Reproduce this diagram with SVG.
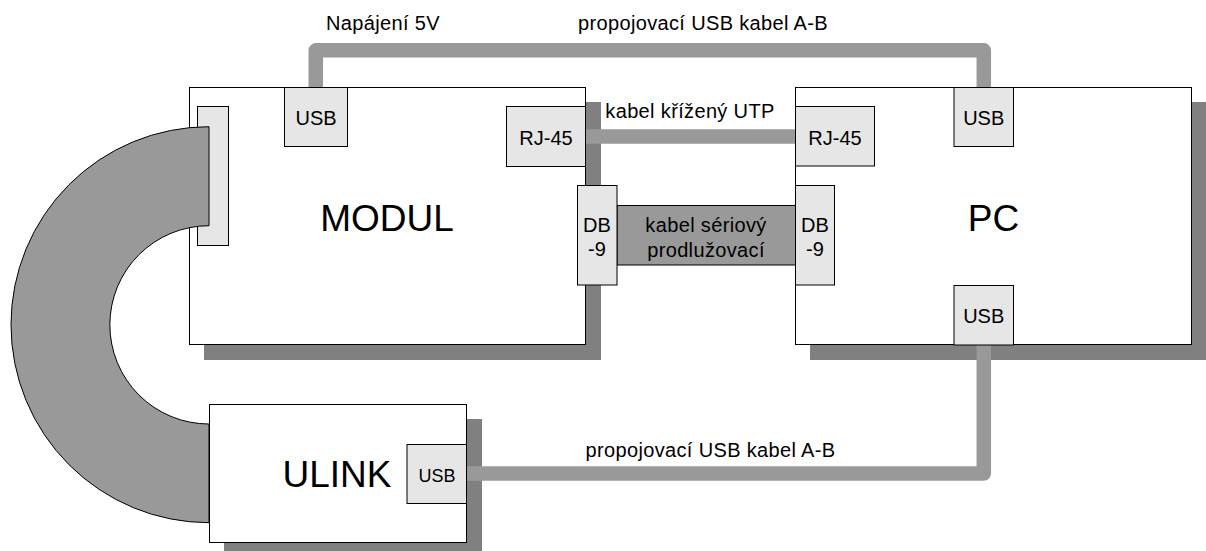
<svg xmlns="http://www.w3.org/2000/svg" width="1206" height="551" viewBox="0 0 1206 551">
<defs>
<style>
.shadow{fill:#808080;stroke:none}
.box{fill:#ffffff;stroke:#000000;stroke-width:1}
.port{fill:#e6e6e6;stroke:#000000;stroke-width:1}
.cable{fill:none;stroke:#999999;stroke-width:14.5;stroke-linejoin:round}
.grey{fill:#999999;stroke:#000000;stroke-width:1}
text{font-family:"Liberation Sans",Arial,Helvetica,sans-serif;fill:#000000}
.t{font-size:20px;text-anchor:middle}
.lbl{letter-spacing:0.35px}
.big{font-size:37px;text-anchor:middle}
</style>
</defs>
<rect width="1206" height="551" fill="#ffffff"/>

<g id="modul">
<rect class="shadow" x="204" y="102" width="397" height="258"/>
<rect class="box" x="189.5" y="87.5" width="396" height="257"/>
<text class="big" x="387" y="231">MODUL</text>
</g>

<g id="pc">
<rect class="shadow" x="810" y="102" width="397" height="258"/>
<rect class="box" x="795.5" y="87.5" width="396" height="257"/>
<text class="big" x="993.5" y="231">PC</text>
</g>

<g id="ulink">
<rect class="shadow" x="224" y="419" width="258" height="140"/>
<rect class="box" x="209.5" y="404.5" width="257" height="138"/>
<text class="big" x="337" y="487">ULINK</text>
</g>

<g id="connectors">
<path class="cable" d="M315.8 87.5 V50.3 H983.8 V87.5"/>
<path class="cable" d="M585.5 136.5 H795.5"/>
<path class="cable" d="M466.5 473.5 H983.8 V345"/>
<rect id="serial-cable" class="grey" x="617" y="205.5" width="178.5" height="59.5"/>
<text class="t lbl" x="706" y="232">kabel sériový</text>
<text class="t lbl" x="706" y="257">prodlužovací</text>
<text class="t lbl" x="383" y="30">Napájení 5V</text>
<text class="t lbl" x="703" y="30">propojovací USB kabel A-B</text>
<text class="t lbl" x="690" y="118">kabel křížený UTP</text>
<text class="t lbl" x="710.5" y="457">propojovací USB kabel A-B</text>
</g>

<g id="modul-ports">
<rect id="modul-left-conn" class="port" x="197.5" y="106.5" width="31" height="139"/>
<g id="modul-usb"><rect class="port" x="284.5" y="87.5" width="63" height="59"/><text class="t" x="316" y="125">USB</text></g>
<g id="modul-rj45"><rect class="port" x="506.5" y="106.5" width="79" height="60"/><text class="t" x="546" y="145">RJ-45</text></g>
<g id="modul-db9"><rect class="port" x="577.5" y="185.5" width="39.5" height="99.5"/><text class="t" x="597" y="232">DB</text><text class="t" x="597" y="256">-9</text></g>
</g>

<g id="pc-ports">
<g id="pc-rj45"><rect class="port" x="795.5" y="106.5" width="79" height="59.5"/><text class="t" x="835" y="145">RJ-45</text></g>
<g id="pc-db9"><rect class="port" x="795.5" y="185.5" width="39" height="99.5"/><text class="t" x="815" y="232">DB</text><text class="t" x="815" y="256">-9</text></g>
<g id="pc-usb-top"><rect class="port" x="954" y="87.5" width="59.5" height="59"/><text class="t" x="983.7" y="125">USB</text></g>
<g id="pc-usb-bottom"><rect class="port" x="954" y="285.5" width="59.5" height="59.5"/><text class="t" x="983.7" y="323">USB</text></g>
</g>

<g id="ulink-usb"><rect class="port" x="407" y="444.5" width="59.5" height="59"/><text x="437" y="482" font-size="18" text-anchor="middle">USB</text></g>

<g id="ribbon-cable">
<path class="grey" d="M209 126.7 A198 198 0 0 0 209 522.7 L209 424 A99 99 0 0 1 209 225.7 Z"/>
</g>
</svg>
